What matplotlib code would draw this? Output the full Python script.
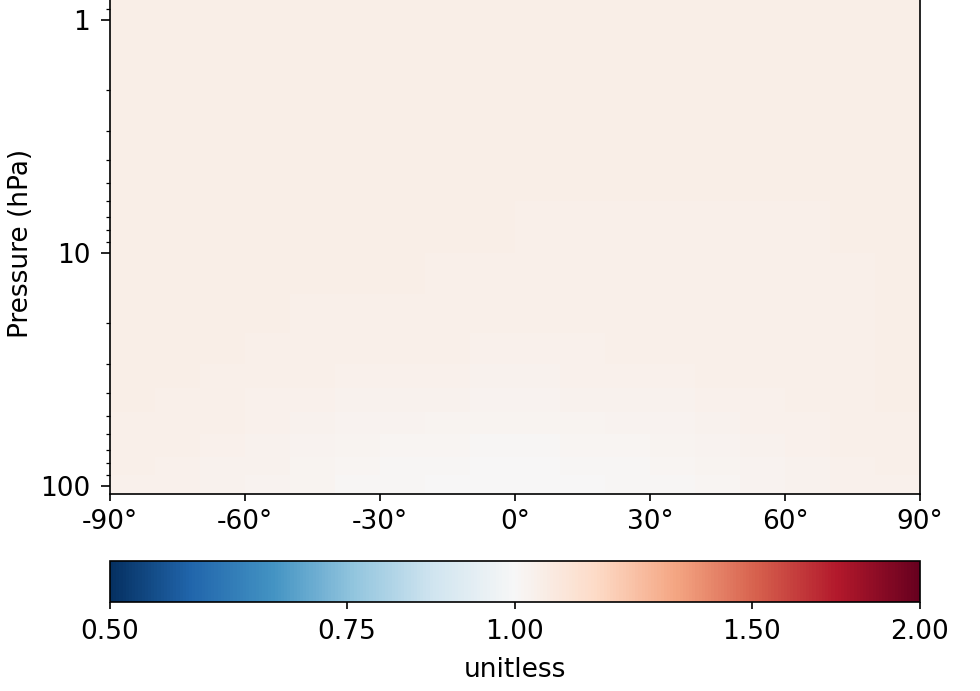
import matplotlib
matplotlib.use("Agg")
import matplotlib.pyplot as plt
import matplotlib.colors as mcolors
import matplotlib.ticker as mticker
import numpy as np

# 纬度网格边界 (度)
lat_edges = [-90, -80, -70, -60, -50, -40, -30, -20, -10, 0,
             10, 20, 30, 40, 50, 60, 70, 80, 90]
# 气压网格边界 (hPa), 从下到上
p_edges = [108, 90, 75, 60, 48, 38, 30, 22, 15, 10, 6, 3, 0.7]

# 比值 (unitless), 每行对应一个气压层, 从 100 hPa 往上
ratio = [
    [1.038, 1.036, 1.032, 1.026, 1.018, 1.010, 1.006, 1.004, 1.003, 1.003, 1.004, 1.006, 1.010, 1.016, 1.022, 1.030, 1.035, 1.038],
    [1.040, 1.038, 1.033, 1.028, 1.020, 1.013, 1.008, 1.006, 1.005, 1.005, 1.006, 1.009, 1.013, 1.018, 1.026, 1.033, 1.038, 1.040],
    [1.042, 1.040, 1.036, 1.030, 1.024, 1.018, 1.014, 1.011, 1.009, 1.009, 1.011, 1.014, 1.018, 1.024, 1.030, 1.036, 1.040, 1.042],
    [1.044, 1.042, 1.040, 1.034, 1.030, 1.025, 1.022, 1.020, 1.018, 1.018, 1.020, 1.024, 1.027, 1.030, 1.034, 1.038, 1.042, 1.044],
    [1.046, 1.044, 1.042, 1.038, 1.035, 1.032, 1.030, 1.028, 1.026, 1.026, 1.028, 1.031, 1.033, 1.035, 1.038, 1.041, 1.043, 1.045],
    [1.048, 1.046, 1.044, 1.042, 1.040, 1.037, 1.035, 1.034, 1.032, 1.032, 1.034, 1.035, 1.037, 1.039, 1.040, 1.042, 1.044, 1.045],
    [1.046, 1.045, 1.045, 1.044, 1.043, 1.041, 1.040, 1.039, 1.037, 1.037, 1.038, 1.039, 1.040, 1.041, 1.042, 1.043, 1.044, 1.045],
    [1.045, 1.045, 1.045, 1.045, 1.044, 1.044, 1.043, 1.042, 1.041, 1.041, 1.041, 1.041, 1.042, 1.043, 1.043, 1.044, 1.044, 1.045],
    [1.045, 1.045, 1.045, 1.045, 1.045, 1.045, 1.045, 1.044, 1.044, 1.043, 1.043, 1.043, 1.043, 1.043, 1.044, 1.044, 1.044, 1.045],
    [1.045, 1.045, 1.045, 1.045, 1.045, 1.045, 1.045, 1.045, 1.045, 1.044, 1.044, 1.044, 1.044, 1.044, 1.044, 1.044, 1.045, 1.045],
    [1.045, 1.045, 1.045, 1.045, 1.045, 1.045, 1.045, 1.045, 1.045, 1.045, 1.045, 1.045, 1.045, 1.045, 1.045, 1.045, 1.045, 1.045],
    [1.045, 1.045, 1.045, 1.045, 1.045, 1.045, 1.045, 1.045, 1.045, 1.046, 1.046, 1.046, 1.045, 1.045, 1.045, 1.045, 1.045, 1.045],
]

x_ticks = [-90, -60, -30, 0, 30, 60, 90]
x_ticklabels = ["-90°", "-60°", "-30°", "0°", "30°", "60°", "90°"]
cb_ticks = [0.5, 0.75, 1.0, 1.5, 2.0]

plt.rcParams['font.size'] = 12.7
plt.rcParams['ytick.major.size'] = 4.5
plt.rcParams['ytick.major.pad'] = 5

fig = plt.figure(figsize=(980 / 150, 691 / 150), dpi=150)
ax = fig.add_axes([110 / 980, 1 - 494 / 691, 810 / 980, 501 / 691])

norm = mcolors.LogNorm(vmin=0.5, vmax=2.0)
mesh = ax.pcolormesh(lat_edges, p_edges, np.array(ratio), cmap='RdBu_r', norm=norm)

ax.set_yscale('log')
ax.set_ylim(108.2, 0.766)
ax.yaxis.set_major_formatter(mticker.FuncFormatter(lambda v, pos: "%g" % v))
ax.set_xlim(-90, 90)
ax.set_xticks(x_ticks)
ax.set_xticklabels(x_ticklabels)
ax.set_ylabel("Pressure (hPa)", labelpad=3)

cax = fig.add_axes([110 / 980, 1 - 602 / 691, 810 / 980, 41 / 691])
cb = fig.colorbar(mesh, cax=cax, orientation='horizontal')
cb.set_ticks(cb_ticks)
cb.set_ticklabels(["%.2f" % t for t in cb_ticks])
cb.ax.xaxis.set_minor_locator(mticker.NullLocator())
cb.ax.tick_params(pad=4.5)
cb.set_label("unitless", labelpad=6)

fig.savefig("out.png", dpi=150)
